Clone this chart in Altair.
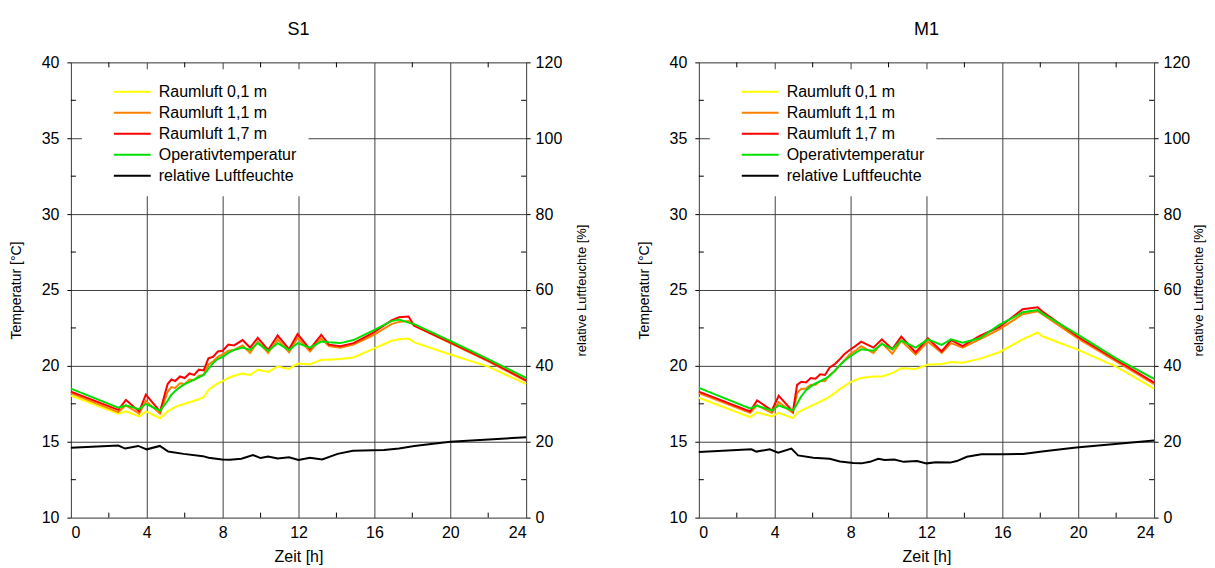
import altair as alt
import pandas as pd

FONT = "Liberation Sans"
SERIES = ["Raumluft 0,1 m", "Raumluft 1,1 m", "Raumluft 1,7 m", "Operativtemperatur", "relative Luftfeuchte"]
COLORS = ["#FFFF00", "#FF8000", "#FF0000", "#00E000", "#000000"]

X_TICKS = [0, 4, 8, 12, 16, 20, 24]
T_TICKS = [10, 15, 20, 25, 30, 35, 40]
RH_TICKS = [0, 20, 40, 60, 80, 100, 120]
X_MINOR = [2, 6, 10, 14, 18, 22]
T_MINOR = [12.5, 17.5, 22.5, 27.5, 32.5, 37.5]

# ---------------- S1 ----------------
s1_hours = [0, 2.5, 2.9, 3.6, 3.95, 4.7, 5.1, 5.3, 5.5, 5.75, 6.0, 6.25, 6.5, 6.75, 7.0, 7.25,
            7.5, 7.75, 8.0, 8.3, 8.6, 9.05, 9.45, 9.85, 10.4, 10.9, 11.5, 11.95, 12.6, 13.2,
            13.6, 14.2, 14.9, 15.9, 16.9, 17.3, 17.8, 18.1, 20.0, 22.0, 24.0]
s1_air01 = [18.05, 16.85, 17.0, 16.67, 17.0, 16.55, 17.0, 17.15, 17.3, 17.4, 17.5, 17.6, 17.7, 17.8, 17.95, 18.4,
            18.65, 18.85, 19.0, 19.2, 19.35, 19.5, 19.4, 19.75, 19.6, 19.95, 19.8, 20.15, 20.1, 20.4,
            20.4, 20.45, 20.55, 21.1, 21.65, 21.75, 21.8, 21.55, 20.75, 19.95, 18.8]
s1_air11 = [18.2, 16.95, 17.4, 16.85, 17.7, 16.85, 18.3, 18.6, 18.55, 18.85, 18.8, 19.1, 19.05, 19.35, 19.4, 20.1,
            20.3, 20.6, 20.75, 21.0, 21.05, 21.35, 20.85, 21.6, 20.85, 21.75, 20.9, 21.85, 20.95, 21.8,
            21.3, 21.2, 21.4, 22.0, 22.75, 22.9, 22.95, 22.65, 21.5, 20.3, 19.0]
s1_air17 = [18.3, 17.1, 17.75, 17.0, 18.1, 17.0, 18.8, 19.1, 19.0, 19.3, 19.2, 19.5, 19.4, 19.75, 19.7, 20.5,
            20.6, 20.95, 21.0, 21.4, 21.35, 21.7, 21.2, 21.85, 21.05, 22.0, 21.1, 22.1, 21.1, 22.05,
            21.4, 21.3, 21.5, 22.15, 23.0, 23.2, 23.25, 22.65, 21.55, 20.35, 19.05]
s1_oper = [18.5, 17.25, 17.4, 17.15, 17.5, 17.05, 17.7, 18.1, 18.35, 18.6, 18.8, 18.95, 19.1, 19.25, 19.4, 19.8,
           20.2, 20.45, 20.6, 20.85, 21.05, 21.2, 21.05, 21.5, 21.0, 21.5, 21.05, 21.5, 21.2, 21.6,
           21.55, 21.5, 21.7, 22.3, 22.95, 23.05, 22.85, 22.75, 21.65, 20.45, 19.2]
s1_rh_hours = [0, 2.5, 2.86, 3.55, 4.0, 4.69, 5.13, 5.94, 6.96, 7.26, 7.97, 8.38, 8.99, 9.6, 10.0, 10.4,
               10.9, 11.5, 12.0, 12.6, 13.25, 14.06, 14.87, 16.5, 17.3, 18.1, 20.0, 24.0]
s1_rh = [18.4, 19.0, 18.2, 18.9, 18.0, 18.9, 17.4, 16.8, 16.2, 15.8, 15.35, 15.26, 15.5, 16.5, 15.7, 16.1,
         15.6, 15.9, 15.2, 15.8, 15.35, 16.8, 17.6, 17.8, 18.2, 18.9, 20.0, 21.2]

# ---------------- M1 ----------------
m1_hours = [0, 2.7, 3.07, 3.85, 4.21, 4.96, 5.18, 5.4, 5.65, 5.9, 6.15, 6.4, 6.65, 6.9, 7.15, 7.4,
            7.65, 7.95, 8.25, 8.56, 9.2, 9.65, 10.2, 10.67, 11.43, 12.07, 12.8, 13.3, 13.9, 14.8,
            15.84, 17.07, 17.86, 18.1, 20.0, 22.0, 24.0]
m1_air01 = [17.9, 16.62, 16.93, 16.67, 16.9, 16.56, 16.9, 17.05, 17.2, 17.35, 17.5, 17.65, 17.8, 17.98, 18.2, 18.45,
            18.65, 18.9, 19.05, 19.2, 19.3, 19.3, 19.52, 19.85, 19.8, 20.07, 20.13, 20.25, 20.2, 20.46,
            20.9, 21.75, 22.2, 21.95, 21.05, 19.95, 18.5]
m1_air11 = [18.2, 16.9, 17.4, 16.9, 17.6, 16.9, 18.2, 18.5, 18.5, 18.75, 18.75, 19.0, 19.0, 19.4, 19.65, 20.0,
            20.35, 20.75, 21.0, 21.3, 20.85, 21.5, 20.8, 21.65, 20.75, 21.6, 20.85, 21.5, 21.2, 21.75,
            22.4, 23.4, 23.6, 23.4, 21.8, 20.3, 18.8]
m1_air17 = [18.3, 16.99, 17.72, 17.06, 18.03, 16.99, 18.75, 18.95, 18.9, 19.2, 19.15, 19.45, 19.4, 19.9, 20.1, 20.4,
            20.75, 21.05, 21.3, 21.6, 21.2, 21.75, 21.1, 21.93, 20.88, 21.82, 20.95, 21.7, 21.3, 21.97,
            22.55, 23.73, 23.86, 23.6, 21.9, 20.4, 18.9]
m1_oper = [18.55, 17.2, 17.37, 17.06, 17.39, 17.06, 17.5, 18.0, 18.4, 18.65, 18.85, 19.0, 19.15, 19.35, 19.65, 20.0,
           20.3, 20.6, 20.85, 21.1, 21.0, 21.45, 21.1, 21.67, 21.2, 21.75, 21.38, 21.75, 21.53, 21.82,
           22.7, 23.53, 23.68, 23.46, 22.04, 20.5, 19.15]
m1_rh_hours = [0, 2.77, 3.03, 3.74, 4.18, 4.88, 5.23, 6.03, 6.9, 7.44, 8.14, 8.58, 9.02, 9.46, 9.8, 10.3,
               10.8, 11.5, 12.0, 12.5, 13.25, 13.6, 14.13, 14.9, 16.07, 17.1, 18.2, 19.9, 24.0]
m1_rh = [17.3, 18.0, 17.4, 18.0, 17.1, 18.2, 16.4, 15.8, 15.5, 14.8, 14.4, 14.3, 14.7, 15.5, 15.2, 15.3,
         14.7, 14.9, 14.3, 14.6, 14.5, 14.9, 16.05, 16.7, 16.7, 16.8, 17.5, 18.5, 20.3]

W = 456
H = 456
GRID = "#404040"


def panel(title, hours, air01, air11, air17, oper, rh_hours, rh, rh_title_pad):
    color = alt.Color(
        "series:N",
        scale=alt.Scale(domain=SERIES, range=COLORS),
        legend=alt.Legend(
            title=None, orient="none", legendX=11, legendY=7,
            fillColor="white", padding=12, symbolOffset=28,
            symbolType="M-2,0H2", symbolSize=342, symbolStrokeWidth=2,
            labelFont=FONT, labelFontSize=16, labelColor="black", labelOffset=16,
            rowPadding=2, labelLimit=400,
        ),
    )
    x_enc = alt.X(
        "hour:Q",
        scale=alt.Scale(domain=[0, 24], nice=False, zero=False),
        axis=alt.Axis(values=X_TICKS, title="Zeit [h]", grid=True, gridColor=GRID, gridWidth=1,
                      domain=False, ticks=False, labelPadding=7, labelFontSize=16, labelFont=FONT,
                      labelColor="black", titleFont=FONT, titleFontSize=16, titleFontWeight="normal",
                      titleColor="black", titlePadding=8, format="d"),
    )
    t_axis = alt.Axis(values=T_TICKS, title="Temperatur [°C]", grid=True, gridColor=GRID, gridWidth=1,
                      domain=False, tickSize=4, tickColor="black", labelPadding=8, labelFontSize=16,
                      labelFont=FONT, labelColor="black", titleFont=FONT, titleFontSize=14,
                      titleFontWeight="normal", titleColor="black", titlePadding=18, format="d")
    t_scale = alt.Scale(domain=[10, 40], nice=False, zero=False)

    layers = []
    for name, vals in zip(SERIES[:4], [air01, air11, air17, oper]):
        df = pd.DataFrame({"hour": hours, "value": vals, "series": name})
        layers.append(
            alt.Chart(df).mark_line(strokeWidth=2).encode(
                x=x_enc, y=alt.Y("value:Q", scale=t_scale, axis=t_axis), color=color
            )
        )
    # inner minor ticks (axis furniture)
    xm = pd.DataFrame({"hour": X_MINOR})
    ym = pd.DataFrame({"value": T_MINOR})
    layers.append(alt.Chart(xm).mark_rule(color="black", strokeWidth=1).encode(
        x=x_enc, y=alt.value(0), y2=alt.value(5)))
    layers.append(alt.Chart(xm).mark_rule(color="black", strokeWidth=1).encode(
        x=x_enc, y=alt.value(H - 5), y2=alt.value(H)))
    layers.append(alt.Chart(ym).mark_rule(color="black", strokeWidth=1).encode(
        y=alt.Y("value:Q", scale=t_scale, axis=t_axis), x=alt.value(0), x2=alt.value(5)))
    layers.append(alt.Chart(ym).mark_rule(color="black", strokeWidth=1).encode(
        y=alt.Y("value:Q", scale=t_scale, axis=t_axis), x=alt.value(W - 5), x2=alt.value(W)))

    temp = alt.layer(*layers)

    rh_df = pd.DataFrame({"hour": rh_hours, "rh": rh, "series": SERIES[4]})
    hum = alt.Chart(rh_df).mark_line(strokeWidth=2).encode(
        x=x_enc,
        y=alt.Y("rh:Q", scale=alt.Scale(domain=[0, 120], nice=False, zero=False),
                axis=alt.Axis(values=RH_TICKS, orient="right", title="relative Luftfeuchte [%]",
                              grid=False, domain=False, tickSize=4, tickColor="black", labelPadding=5,
                              labelFontSize=16, labelFont=FONT, labelColor="black", titleFont=FONT,
                              titleFontSize=13, titleFontWeight="normal", titleColor="black",
                              titlePadding=rh_title_pad, titleAngle=270, titleBaseline="top",
                              format="d")),
        color=color,
    )
    return alt.layer(temp, hum).resolve_scale(y="independent").properties(
        width=W, height=H,
        title=alt.TitleParams(title, font=FONT, fontSize=18, fontWeight="normal", color="black",
                              anchor="middle", offset=15),
    )


left = panel("S1", s1_hours, s1_air01, s1_air11, s1_air17, s1_oper, s1_rh_hours, s1_rh, 14)
right = panel("M1", m1_hours, m1_air01, m1_air11, m1_air17, m1_oper, m1_rh_hours, m1_rh, 3)

chart = (
    alt.hconcat(left, right, spacing=46)
    .resolve_scale(color="independent")
    .resolve_legend(color="independent")
    .properties(padding={"left": 0, "top": 12, "right": 0, "bottom": 0})
    .configure_view(stroke="black", strokeWidth=2)
    .configure(background="white")
)

chart.save("out.html", embed_options={"renderer": "svg", "actions": False})
